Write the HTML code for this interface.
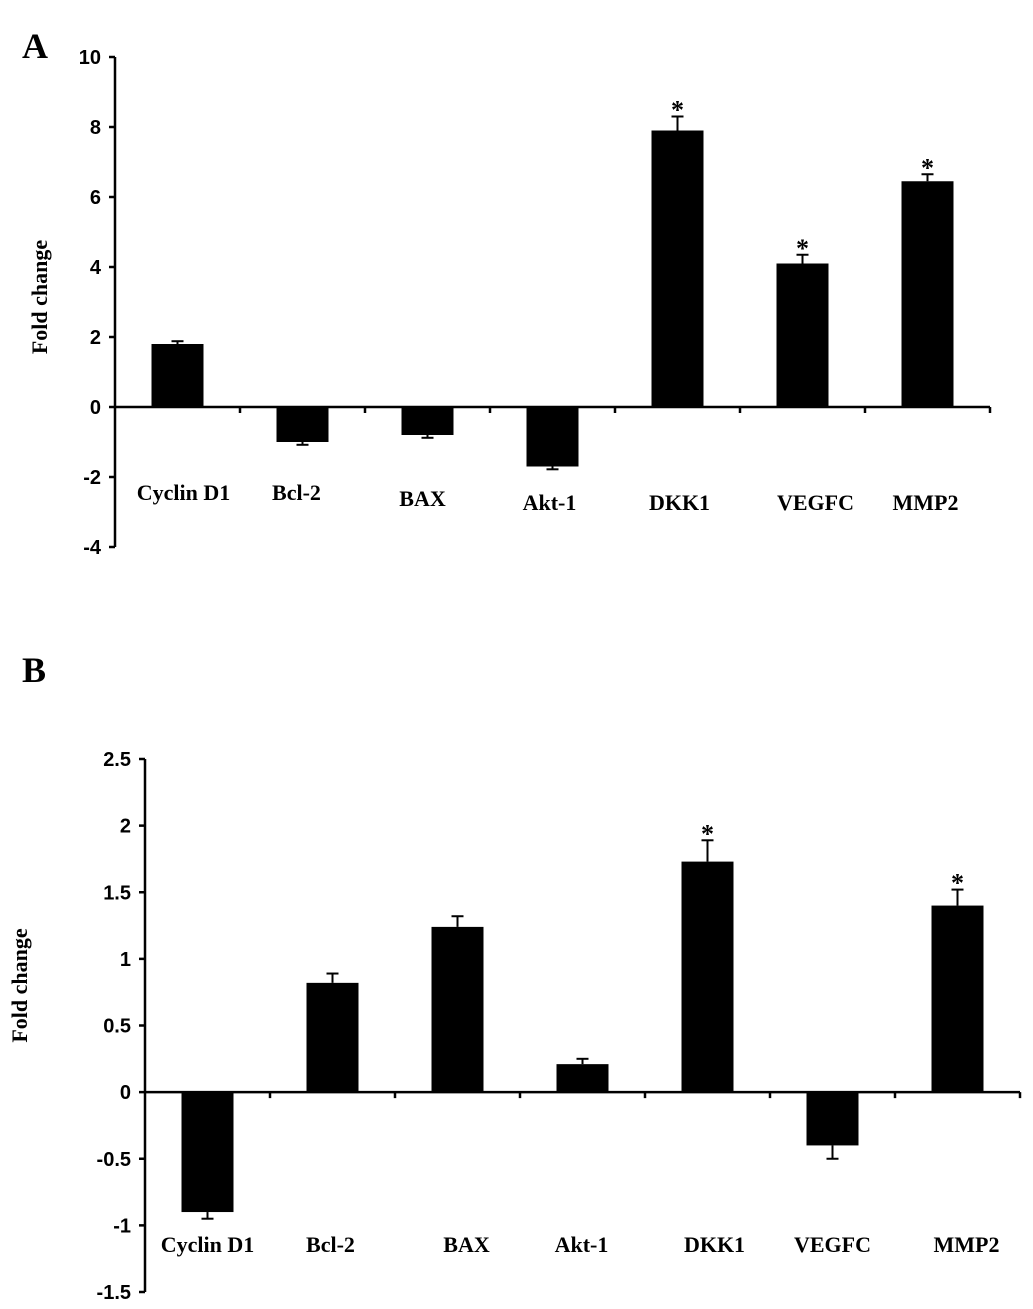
<!DOCTYPE html>
<html><head><meta charset="utf-8"><style>
html,body{margin:0;padding:0;background:#fff;}
svg{display:block;}
.tick{font-family:"Liberation Sans",sans-serif;font-weight:bold;font-size:20px;}
.cat{font-family:"Liberation Serif",serif;font-weight:bold;font-size:22px;}
.ttl{font-family:"Liberation Serif",serif;font-weight:bold;font-size:22px;}
.star{font-family:"Liberation Serif",serif;font-weight:bold;font-size:26px;}
.pl{font-family:"Liberation Serif",serif;font-weight:bold;font-size:36px;}
</style></head><body>
<svg id="chart" width="1033" height="1309" viewBox="0 0 1033 1309" xmlns="http://www.w3.org/2000/svg">
<text class="pl" x="22" y="58">A</text>
<text class="pl" x="22" y="682">B</text>
</svg>
<script>
const categories=["Cyclin D1","Bcl-2","BAX","Akt-1","DKK1","VEGFC","MMP2"];
const valuesA=[1.8,-1.0,-0.8,-1.7,7.9,4.1,6.45];
const errorsA=[0.08,0.08,0.08,0.08,0.4,0.25,0.2];
const sigA=[false,false,false,false,true,true,true];
const ticksA=[10,8,6,4,2,0,-2,-4];
const valuesB=[-0.9,0.82,1.24,0.21,1.73,-0.4,1.4];
const errorsB=[0.05,0.07,0.08,0.04,0.16,0.1,0.12];
const sigB=[false,false,false,false,true,false,true];
const ticksB=[2.5,2,1.5,1,0.5,0,-0.5,-1,-1.5];
const labelYA=[500,500,506,510,510,510,510];
const labelYB=[1252,1252,1252,1252,1252,1252,1252];
const NS="http://www.w3.org/2000/svg";
const svg=document.getElementById('chart');
function mk(t,a,txt){const e=document.createElementNS(NS,t);for(const k in a)e.setAttribute(k,a[k]);if(txt!==undefined)e.textContent=txt;svg.appendChild(e);return e;}
function panel(p,vals,errs,sig,ticks,labelY,cfg){
  const y=v=>cfg.y0-(v-ticks[ticks.length-1])*(cfg.y0-cfg.y1)/(ticks[0]-ticks[ticks.length-1]);
  const slot=(cfg.xEnd-cfg.xAxis)/categories.length;
  const x=i=>cfg.xAxis+slot*(i+0.5);
  let e=mk('line',{x1:cfg.xAxis,x2:cfg.xAxis,y1:y(ticks[0]),y2:y(ticks[ticks.length-1]),stroke:'#000','stroke-width':2.5});
  
  ticks.forEach(t=>{
    let l=mk('line',{x1:cfg.xAxis-6,x2:cfg.xAxis,y1:y(t),y2:y(t),stroke:'#000','stroke-width':2.5});
    
    let tx=mk('text',{class:'tick',x:cfg.xAxis-14,y:y(t)+7,'text-anchor':'end'},String(t));
    
  });
  e=mk('line',{x1:cfg.xAxis,x2:cfg.xEnd,y1:y(0),y2:y(0),stroke:'#000','stroke-width':2.5});
  
  for(let i=1;i<=categories.length;i++){
    let l=mk('line',{x1:cfg.xAxis+slot*i,x2:cfg.xAxis+slot*i,y1:y(0),y2:y(0)+6,stroke:'#000','stroke-width':2.5});
    
  }
  const bw=cfg.bw;
  vals.forEach((v,i)=>{
    const top=Math.min(y(v),y(0)),h=Math.abs(y(v)-y(0));
    let r=mk('rect',{x:x(i)-bw/2,y:top,width:bw,height:h,fill:'#000'});
    
    
    const ey=v>=0?y(v+errs[i]):y(v-errs[i]);
    let el=mk('line',{x1:x(i),x2:x(i),y1:y(v),y2:ey,stroke:'#000','stroke-width':2});
    
    let ec=mk('line',{x1:x(i)-6,x2:x(i)+6,y1:ey,y2:ey,stroke:'#000','stroke-width':2});
    
    if(sig[i]){
      let s=mk('text',{class:'star',x:x(i),y:ey+2,'text-anchor':'middle'},'*');
      
    }
    let c=mk('text',{class:'cat',x:x(i)+(cfg.labOff[i]||0),y:labelY[i],'text-anchor':'middle'},categories[i]);
    
  });
  const cy=(y(ticks[0])+y(ticks[ticks.length-1]))/2+cfg.titleDy;
  let t=mk('text',{class:'ttl',x:cfg.titleX,y:cy,'text-anchor':'middle',transform:`rotate(-90 ${cfg.titleX} ${cy})`},'Fold change');
  
}
panel('panel-a',valuesA,errorsA,sigA,ticksA,labelYA,{xAxis:115,xEnd:990,y1:57,y0:547,bw:52,titleX:47,titleDy:-5,labOff:[6,-6,-5,-3,2,13,-2]});
panel('panel-b',valuesB,errorsB,sigB,ticksB,labelYB,{xAxis:145,xEnd:1020,y1:759,y0:1292,bw:52,titleX:27,titleDy:-40,labOff:[0,-2,9,-1,7,0,9]});
</script>
</body></html>
